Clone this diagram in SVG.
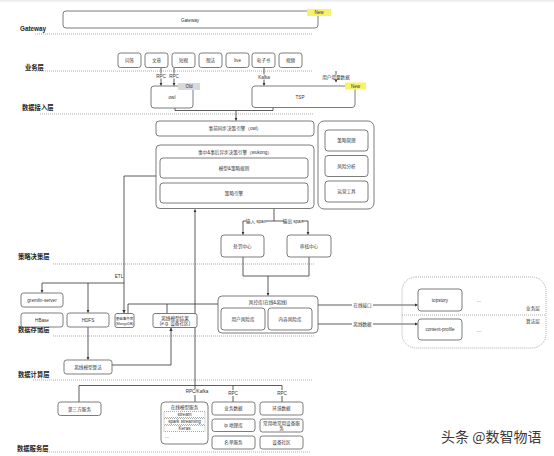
<svg xmlns="http://www.w3.org/2000/svg" width="554" height="456" viewBox="0 0 554 456">
<style>
.b{fill:#fff;stroke:#5a5a5a;stroke-width:0.8}
.t{font-family:"Liberation Sans","Noto Sans CJK SC",sans-serif;font-size:4.6px;fill:#333;text-anchor:middle}
.l{font-family:"Liberation Sans","Noto Sans CJK SC",sans-serif;font-size:6.3px;font-weight:bold;fill:#222}
.d{stroke:#8a8a8a;stroke-width:0.7;stroke-dasharray:1 1;fill:none}
.c{stroke:#333;stroke-width:0.8;fill:none}
.a{marker-end:url(#ah)}
.new{fill:#f7f26a}
.old{fill:#d9d9d9}
.bg{fill:#fff}
</style>
<defs>
<marker id="ah" viewBox="0 0 6 6" refX="5.5" refY="3" markerWidth="4" markerHeight="4" orient="auto"><path d="M0,0L6,3L0,6z" fill="#333"/></marker>
</defs>
<rect x="0" y="0" width="554" height="456" fill="#fff"/>
<rect x="0" y="0" width="554" height="1.5" fill="#ebebeb"/>

<g id="layers">
<text class="l" x="20" y="31">Gateway</text>
<text class="l" x="25" y="70">业务层</text>
<text class="l" x="22" y="110">数据接入层</text>
<text class="l" x="18" y="259">策略决策层</text>
<text class="l" x="18" y="332">数据存储层</text>
<text class="l" x="18" y="377">数据计算层</text>
<text class="l" x="17" y="451">数据服务层</text>
<path class="d" d="M35,34H313M35,71H313M40,114H314M53,264H315M53,336H315M33,380H313M47,452H310"/>
</g>

<g id="connectors">
<path class="c a" d="M161,68V85.5"/>
<path class="c a" d="M174,68V85.5"/>
<path class="c a" d="M264,68V85.5"/>
<path class="c a" d="M336,71V82"/>
<path class="c" d="M175,108V110.5H273V107.5"/>
<path class="c a" d="M236,110.5V120.5"/>
<path class="c a" d="M156,176H124V313"/>
<path class="c a" d="M124,283H42V292.5"/>
<path class="c a" d="M88,283V312.5"/>
<path class="c" d="M218,304H128V313.5M167,304V313.5"/>
<path class="c a" d="M88,327V359.5"/>
<path class="c a" d="M112,365H171V328"/>
<path class="c a" d="M195,402V209.5"/>
<path class="c" d="M79,402V385.5H282V402M233,385.5V402"/>
<path class="c" d="M274,208.5V221M243,221H308"/>
<path class="c a" d="M243,221V234.5"/>
<path class="c a" d="M308,221V234.5"/>
<path class="c" d="M243,257V276H309V257"/>
<path class="c a" d="M268,276V295.5"/>
<path class="c a" d="M318,305H417.5"/>
<path class="c a" d="M318,324H417.5"/>
<rect class="bg" x="153" y="73.5" width="28" height="5"/>
<text class="t" x="161" y="77.5">RPC</text>
<text class="t" x="174" y="77.5">RPC</text>
<rect class="bg" x="256" y="74.5" width="16" height="5"/>
<text class="t" x="264" y="78.5">Kafka</text>
<rect class="bg" x="320" y="74.5" width="32" height="5"/>
<text class="t" x="336" y="78.5">用户增量数据</text>
<text class="t" x="119" y="278">ETL</text>
<rect class="bg" x="246" y="218.5" width="20" height="5"/>
<text class="t" x="256" y="222.5">输入 span</text>
<rect class="bg" x="284" y="218.5" width="18" height="5"/>
<text class="t" x="293" y="222.5">输出 span</text>
<rect class="bg" x="352" y="302" width="21" height="6"/>
<text class="t" x="362.5" y="306.5">在线接口</text>
<rect class="bg" x="352" y="321" width="21" height="6"/>
<text class="t" x="362.5" y="325.5">离线数据</text>
<rect class="bg" x="186" y="389" width="22" height="6"/>
<text class="t" x="197" y="393">RPC/Kafka</text>
<rect class="bg" x="227" y="390" width="12" height="6"/>
<text class="t" x="233" y="394.5">RPC</text>
<rect class="bg" x="276" y="390" width="12" height="6"/>
<text class="t" x="282" y="394.5">RPC</text>
</g>

<g id="gateway">
<rect class="b" x="63" y="11" width="255" height="17" rx="3"/>
<text class="t" x="190" y="21.5">Gateway</text>
<rect class="new" x="307" y="9" width="24" height="7"/>
<text class="t" x="319" y="14.3">New</text>
</g>

<g id="biz">
<rect class="b" x="118" y="53" width="23" height="14.5" rx="2.5"/><text class="t" x="129.5" y="61.8">问答</text>
<rect class="b" x="145" y="53" width="23" height="14.5" rx="2.5"/><text class="t" x="156.5" y="61.8">文章</text>
<rect class="b" x="172" y="53" width="23" height="14.5" rx="2.5"/><text class="t" x="183.5" y="61.8">短视</text>
<rect class="b" x="199" y="53" width="23" height="14.5" rx="2.5"/><text class="t" x="210.5" y="61.8">想法</text>
<rect class="b" x="226" y="53" width="23" height="14.5" rx="2.5"/><text class="t" x="237.5" y="61.8">live</text>
<rect class="b" x="252" y="53" width="23" height="14.5" rx="2.5"/><text class="t" x="263.5" y="61.8">电子书</text>
<rect class="b" x="279" y="53" width="23" height="14.5" rx="2.5"/><text class="t" x="290.5" y="61.8">视频</text>
</g>

<g id="owl">
<rect class="b" x="151" y="86" width="42" height="22" rx="3"/>
<text class="t" x="172" y="98.5">owl</text>
<rect class="old" x="178" y="83" width="22" height="7"/>
<text class="t" x="189" y="88.3">Old</text>
</g>

<g id="tsp">
<rect class="b" x="252" y="86" width="103" height="21.5" rx="3"/>
<text class="t" x="300" y="98.5">TSP</text>
<rect class="new" x="345" y="82.5" width="21" height="7"/>
<text class="t" x="355.5" y="87.8">New</text>
</g>

<g id="sync">
<rect class="b" x="156" y="121" width="158" height="15" rx="3"/>
<text class="t" x="235" y="130.3">事前同步决策引擎（owl）</text>
</g>

<g id="wukong">
<rect class="b" x="156" y="145" width="158" height="63.5" rx="4"/>
<text class="t" x="235" y="154">事中&amp;事后异步决策引擎（wukong）</text>
<rect class="b" x="160" y="158" width="148" height="20" rx="3"/>
<text class="t" x="234" y="169.5">模型&amp;策略规则</text>
<rect class="b" x="160" y="183" width="148" height="20" rx="3"/>
<text class="t" x="234" y="194.5">策略引擎</text>
</g>

<g id="tools">
<rect class="b" x="318" y="121" width="56" height="88" rx="6"/>
<rect class="b" x="325" y="130" width="43" height="21" rx="3"/><text class="t" x="346.5" y="142">策略管理</text>
<rect class="b" x="325" y="155.5" width="43" height="21" rx="3"/><text class="t" x="346.5" y="167.5">风险分析</text>
<rect class="b" x="325" y="181" width="43" height="21" rx="3"/><text class="t" x="346.5" y="193">运营工具</text>
</g>

<g id="punish">
<rect class="b" x="221" y="235" width="43" height="22" rx="3"/>
<text class="t" x="242.5" y="247.5">处罚中心</text>
</g>
<g id="audit">
<rect class="b" x="287" y="235" width="44" height="22" rx="3"/>
<text class="t" x="309" y="247.5">审核中心</text>
</g>

<g id="riskdb">
<rect class="b" x="218" y="296" width="100" height="37" rx="4"/>
<text class="t" x="268" y="303.5">风控库(在线&amp;离线)</text>
<rect class="b" x="221" y="308" width="44" height="22" rx="3"/><text class="t" x="243" y="320.5">用户风险库</text>
<rect class="b" x="268" y="308" width="44" height="22" rx="3"/><text class="t" x="290" y="320.5">内容风险库</text>
</g>

<g id="consumers">
<rect class="d" x="402" y="277" width="144" height="71" rx="14"/>
<path class="d" d="M402,315H546"/>
<text class="t" x="533" y="310">业务层</text>
<text class="t" x="533" y="322.5">算法层</text>
<rect class="b" x="418" y="289" width="44" height="22" rx="3"/><text class="t" x="440" y="301.5">topstory</text>
<text class="t" x="479" y="302">...</text>
<rect class="b" x="418" y="319" width="44" height="21" rx="3"/><text class="t" x="440" y="331">content-profile</text>
<text class="t" x="479" y="332">...</text>
</g>

<g id="storage">
<rect class="b" x="21" y="293" width="42" height="14" rx="2.5"/><text class="t" x="42" y="301.5">gremlin-server</text>
<rect class="b" x="21" y="313" width="42" height="14" rx="2.5"/><text class="t" x="42" y="321.5">HBase</text>
<rect class="b" x="67" y="313" width="42" height="14" rx="2.5"/><text class="t" x="88" y="321.5">HDFS</text>
<rect class="b" x="115" y="313.5" width="19" height="14" rx="2"/>
<text class="t" x="124.5" y="319.5" style="font-size:3.5px">基础事件库</text>
<text class="t" x="124.5" y="324.5" style="font-size:3.5px">(MongoDB)</text>
<rect class="b" x="153" y="313.5" width="44" height="14" rx="2"/>
<text class="t" x="175" y="319.5">离线模型结果</text>
<text class="t" x="175" y="325">(e.g. 设备社区)</text>
</g>

<g id="offline">
<rect class="b" x="64" y="360" width="48" height="14" rx="2.5"/>
<text class="t" x="88" y="368.5">离线模型算法</text>
</g>

<g id="services">
<rect class="b" x="58" y="402" width="43" height="13.5" rx="2.5"/><text class="t" x="79.5" y="410.5">第三方服务</text>
<rect class="b" x="161" y="402" width="47" height="42" rx="4"/>
<text class="t" x="184.5" y="409">在线模型服务</text>
<rect class="d" x="164" y="411.5" width="41" height="6"/><text class="t" x="184.5" y="416">stream</text>
<rect class="d" x="164" y="418.5" width="41" height="6"/><text class="t" x="184.5" y="423">spark streaming</text>
<rect class="d" x="164" y="425.5" width="41" height="6"/><text class="t" x="184.5" y="430">Keras</text>
<text class="t" x="167" y="438">...</text>
<rect class="b" x="212" y="402" width="43" height="13" rx="2.5"/><text class="t" x="233.5" y="410.3">业务数据</text>
<rect class="b" x="260" y="402" width="43" height="13" rx="2.5"/><text class="t" x="281.5" y="410.3">环境数据</text>
<rect class="b" x="212" y="419" width="43" height="12.5" rx="2.5"/><text class="t" x="233.5" y="427">ip 地理库</text>
<rect class="b" x="260" y="419" width="43" height="13" rx="2.5"/><text class="t" x="281.5" y="424.5">常用地常用设备服</text><text class="t" x="281.5" y="430">务</text>
<rect class="b" x="212" y="436" width="43" height="13" rx="2.5"/><text class="t" x="233.5" y="444.3">名单服务</text>
<rect class="b" x="260" y="436" width="43" height="13" rx="2.5"/><text class="t" x="281.5" y="444.3">设备社区</text>
</g>

<text x="441" y="442" style="font-family:'Noto Sans CJK SC',sans-serif;font-size:14px;fill:#3a3a3a">头条 @数智物语</text>
</svg>
